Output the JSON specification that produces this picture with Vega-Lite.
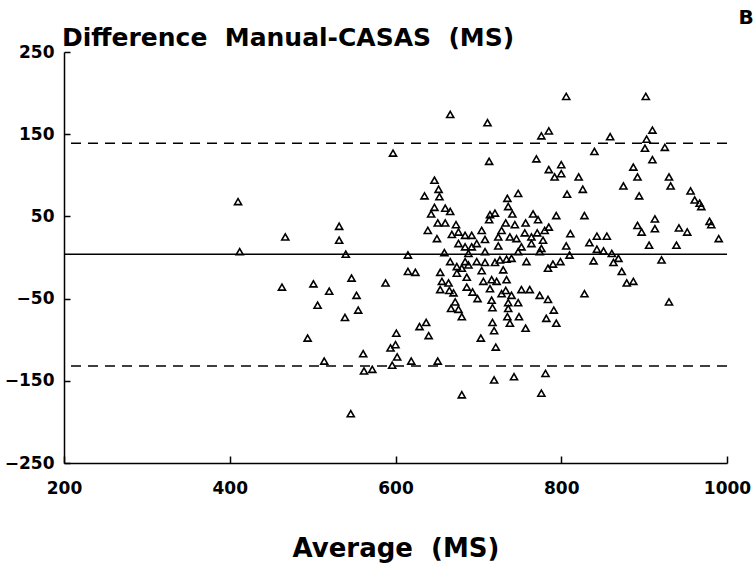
{
  "$schema": "https://vega.github.io/schema/vega-lite/v6.json",
  "width": 663,
  "height": 411,
  "autosize": {"type": "none"},
  "padding": {"left": 64, "top": 52, "right": 26, "bottom": 105},
  "background": "white",
  "config": {"view": {"stroke": null}, "font": "DejaVu Sans"},
  "title": {
    "text": "Difference \u00a0Manual-CASAS \u00a0(MS)",
    "anchor": "start",
    "frame": "group",
    "font": "DejaVu Sans",
    "fontSize": 25,
    "fontWeight": "bold",
    "color": "black",
    "offset": 0,
    "dx": -2,
    "dy": 43
  },
  "datasets": {
    "points": [
      {"a":597,"d":127},{"a":410,"d":68},{"a":467,"d":25},{"a":532,"d":38},{"a":532,"d":21},{"a":412,"d":7},{"a":540,"d":4},{"a":547,"d":-25},{"a":463,"d":-36},{"a":501,"d":-32},{"a":520,"d":-41},{"a":553,"d":-46},{"a":588,"d":-31},{"a":506,"d":-58},{"a":555,"d":-64},{"a":539,"d":-73},{"a":494,"d":-98},{"a":601,"d":-92},{"a":594,"d":-110},{"a":600,"d":-106},{"a":602,"d":-121},{"a":561,"d":-117},{"a":514,"d":-126},{"a":562,"d":-138},{"a":572,"d":-136},{"a":596,"d":-131},{"a":546,"d":-190},
      {"a":666,"d":174},{"a":711,"d":164},{"a":713,"d":117},{"a":647,"d":94},{"a":652,"d":83},{"a":635,"d":75},{"a":653,"d":74},{"a":647,"d":61},{"a":643,"d":53},{"a":660,"d":60},{"a":666,"d":56},{"a":651,"d":42},{"a":660,"d":42},{"a":673,"d":40},{"a":639,"d":33},{"a":668,"d":28},{"a":676,"d":31},{"a":650,"d":23},{"a":684,"d":27},{"a":692,"d":27},{"a":704,"d":33},{"a":714,"d":52},{"a":720,"d":54},{"a":713,"d":46},{"a":708,"d":22},{"a":698,"d":17},{"a":676,"d":17},{"a":684,"d":13},{"a":692,"d":13},{"a":724,"d":25},{"a":724,"d":14},{"a":615,"d":3},{"a":659,"d":6},{"a":708,"d":7},{"a":688,"d":5},{"a":666,"d":-5},{"a":684,"d":-5},{"a":698,"d":-5},{"a":708,"d":-6},{"a":720,"d":-6},{"a":726,"d":-3},{"a":674,"d":-11},{"a":680,"d":-13},{"a":688,"d":-9},{"a":615,"d":-17},{"a":624,"d":-18},{"a":654,"d":-18},{"a":674,"d":-19},{"a":704,"d":-16},{"a":686,"d":-24},{"a":656,"d":-29},{"a":664,"d":-31},{"a":706,"d":-29},{"a":716,"d":-27},{"a":722,"d":-29},{"a":686,"d":-36},{"a":654,"d":-39},{"a":665,"d":-40},{"a":670,"d":-43},{"a":693,"d":-42},{"a":714,"d":-38},{"a":728,"d":-44},{"a":672,"d":-54},{"a":699,"d":-50},{"a":716,"d":-52},{"a":667,"d":-62},{"a":676,"d":-63},{"a":717,"d":-61},{"a":680,"d":-72},{"a":629,"d":-84},{"a":637,"d":-79},{"a":640,"d":-95},{"a":619,"d":-126},{"a":651,"d":-126},{"a":703,"d":-98},{"a":719,"d":-89},{"a":721,"d":-109},{"a":717,"d":-79},{"a":719,"d":-149},{"a":680,"d":-167},
      {"a":806,"d":196},{"a":785,"d":154},{"a":776,"d":148},{"a":840,"d":129},{"a":770,"d":120},{"a":800,"d":113},{"a":785,"d":107},{"a":800,"d":102},{"a":792,"d":98},{"a":821,"d":98},{"a":826,"d":83},{"a":748,"d":78},{"a":807,"d":77},{"a":735,"d":72},{"a":736,"d":62},{"a":741,"d":53},{"a":766,"d":53},{"a":772,"d":46},{"a":794,"d":51},{"a":828,"d":51},{"a":733,"d":42},{"a":744,"d":40},{"a":757,"d":42},{"a":785,"d":37},{"a":728,"d":33},{"a":756,"d":30},{"a":771,"d":30},{"a":780,"d":33},{"a":811,"d":29},{"a":738,"d":25},{"a":746,"d":23},{"a":764,"d":25},{"a":778,"d":21},{"a":843,"d":26},{"a":855,"d":26},{"a":834,"d":18},{"a":752,"d":13},{"a":764,"d":17},{"a":776,"d":11},{"a":806,"d":14},{"a":748,"d":7},{"a":774,"d":7},{"a":843,"d":10},{"a":851,"d":8},{"a":810,"d":3},{"a":734,"d":-2},{"a":740,"d":-1},{"a":758,"d":-5},{"a":730,"d":-15},{"a":784,"d":-13},{"a":790,"d":-8},{"a":799,"d":-5},{"a":839,"d":-4},{"a":734,"d":-27},{"a":733,"d":-40},{"a":752,"d":-39},{"a":762,"d":-39},{"a":740,"d":-46},{"a":774,"d":-46},{"a":784,"d":-51},{"a":828,"d":-44},{"a":736,"d":-55},{"a":748,"d":-55},{"a":736,"d":-62},{"a":791,"d":-64},{"a":735,"d":-72},{"a":749,"d":-72},{"a":782,"d":-74},{"a":738,"d":-80},{"a":794,"d":-80},{"a":757,"d":-86},{"a":743,"d":-145},{"a":781,"d":-141},{"a":776,"d":-165},
      {"a":902,"d":196},{"a":910,"d":155},{"a":859,"d":147},{"a":903,"d":144},{"a":901,"d":133},{"a":925,"d":134},{"a":910,"d":119},{"a":887,"d":110},{"a":892,"d":98},{"a":930,"d":98},{"a":875,"d":87},{"a":932,"d":87},{"a":894,"d":75},{"a":956,"d":81},{"a":961,"d":70},{"a":969,"d":62},{"a":967,"d":66},{"a":979,"d":44},{"a":981,"d":40},{"a":913,"d":47},{"a":892,"d":39},{"a":897,"d":31},{"a":913,"d":35},{"a":942,"d":36},{"a":952,"d":31},{"a":990,"d":23},{"a":906,"d":15},{"a":939,"d":15},{"a":861,"d":5},{"a":869,"d":-1},{"a":863,"d":-6},{"a":921,"d":-3},{"a":873,"d":-17},{"a":879,"d":-31},{"a":887,"d":-29},{"a":930,"d":-54}
    ],
    "meanline": [{"d": 4}],
    "limits": [{"d": 139}, {"d": -132}],
    "panel": [{"a": 1023, "d": 291, "t": "B"}]
  },
  "encoding": {
    "y": {
      "field": "d",
      "type": "quantitative",
      "scale": {"domain": [-250, 250], "nice": false, "zero": false},
      "axis": {
        "title": null,
        "values": [-250, -150, -50, 50, 150, 250],
        "grid": false,
        "domainColor": "black",
        "domainWidth": 1.5,
        "tickColor": "black",
        "tickWidth": 1.5,
        "tickSize": -6,
        "labelFont": "DejaVu Sans",
        "labelFontWeight": "bold",
        "labelFontSize": 17,
        "labelColor": "black",
        "labelPadding": 16,
        "labelFlush": false,
        "labelOverlap": false,
        "labelBound": false
      }
    }
  },
  "layer": [
    {
      "data": {"name": "meanline"},
      "mark": {"type": "rule", "color": "black", "strokeWidth": 1.5},
      "encoding": {}
    },
    {
      "data": {"name": "limits"},
      "mark": {"type": "rule", "color": "black", "strokeWidth": 1.5, "strokeDash": [10, 7]},
      "encoding": {}
    },
    {
      "data": {"name": "points"},
      "mark": {"type": "point", "shape": "triangle-up", "filled": false, "stroke": "black", "strokeWidth": 1.6, "size": 50, "opacity": 1},
      "encoding": {
        "x": {
          "field": "a",
          "type": "quantitative",
          "scale": {"domain": [200, 1000], "nice": false, "zero": false},
          "axis": {
            "title": "Average \u00a0(MS)",
            "values": [200, 400, 600, 800, 1000],
            "format": "d",
            "grid": false,
            "domainColor": "black",
            "domainWidth": 1.5,
            "tickColor": "black",
            "tickWidth": 1.5,
            "tickSize": -7,
            "labelFont": "DejaVu Sans",
            "labelFontWeight": "bold",
            "labelFontSize": 17,
            "labelColor": "black",
            "labelPadding": 24,
            "labelFlush": false,
            "labelOverlap": false,
            "labelBound": false,
            "titleFont": "DejaVu Sans",
            "titleFontWeight": "bold",
            "titleFontSize": 26,
            "titleColor": "black",
            "titlePadding": 39
          }
        }
      }
    },
    {
      "data": {"name": "panel"},
      "mark": {"type": "text", "font": "DejaVu Sans", "fontWeight": "bold", "fontSize": 20, "color": "black", "align": "center", "baseline": "middle"},
      "encoding": {
        "x": {"field": "a", "type": "quantitative"},
        "text": {"field": "t"}
      }
    }
  ]
}
